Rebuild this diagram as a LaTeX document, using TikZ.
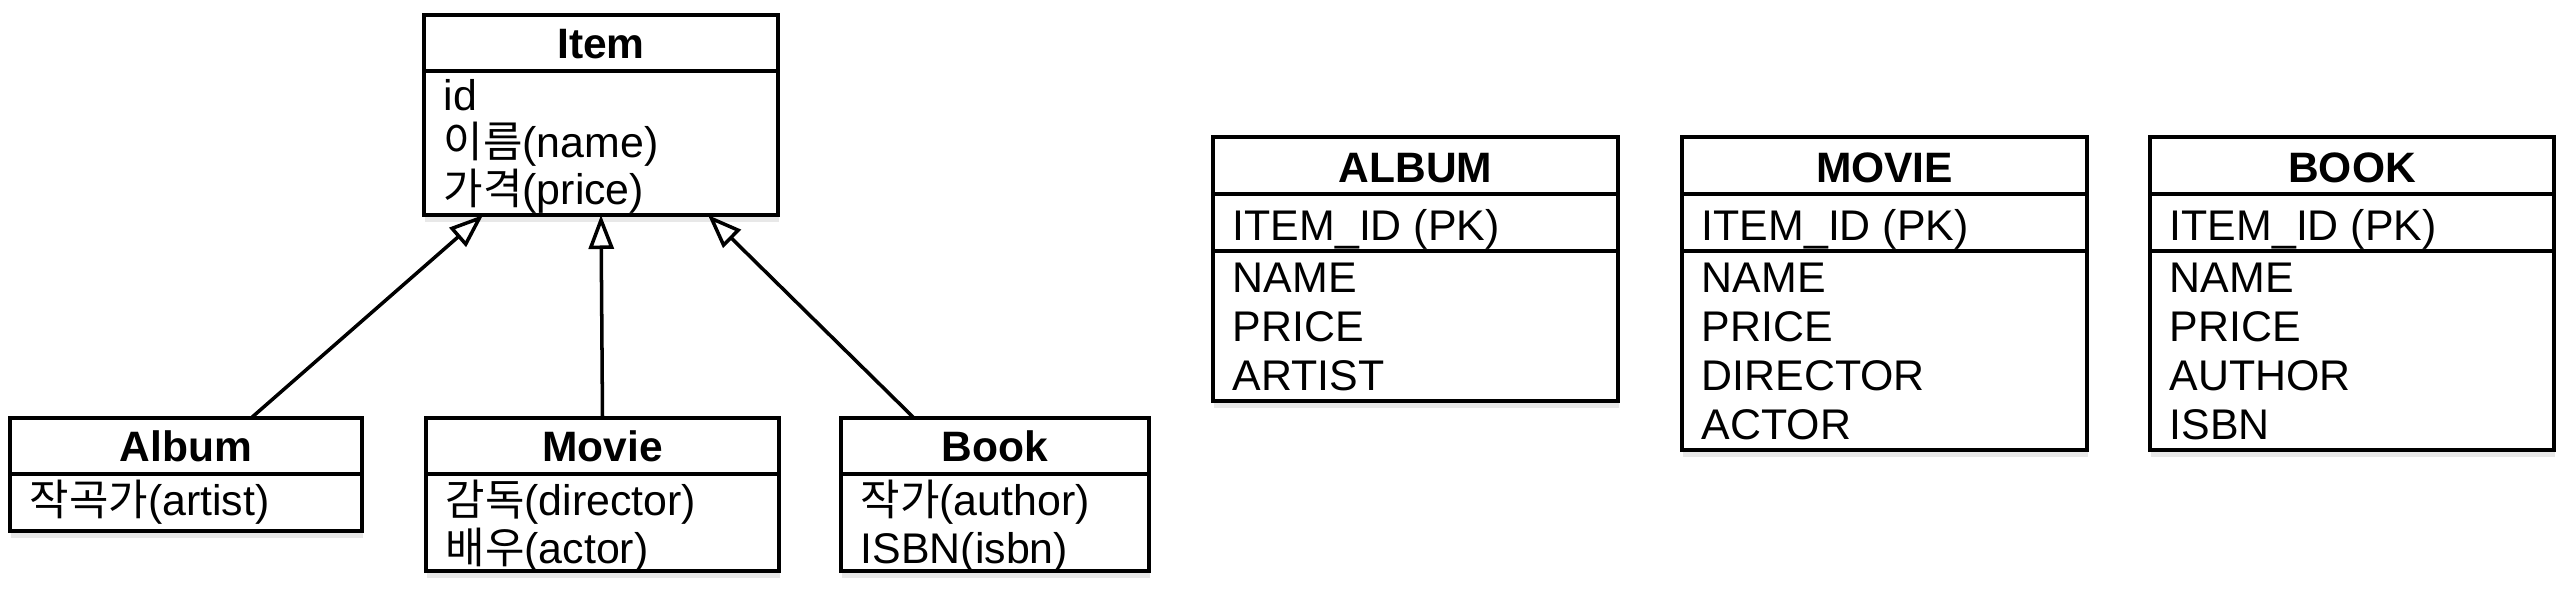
\documentclass[tikz,border=0pt]{standalone}
\usepackage{fontspec}
\setmainfont{Liberation Sans}
\newfontfamily\kr{Noto Sans CJK KR}
\usetikzlibrary{calc,arrows.meta,shadows}

\begin{document}
\begin{tikzpicture}[
    box/.style={draw, line width=1.1pt, fill=white, anchor=north west, inner sep=0pt, outer sep=0pt,
        drop shadow={opacity=0.18, shadow xshift=0.01cm, shadow yshift=-0.07cm}},
    title/.style={anchor=base, inner sep=0pt, font=\bfseries\fontsize{12.1}{14}\selectfont},
    field/.style={anchor=base west, inner sep=0pt, font=\fontsize{12.2}{14}\selectfont},
    extends/.style={line width=1pt, -{Triangle[open, length=0.34cm, width=0.25cm]}}
]
    \useasboundingbox (0,0) rectangle (25.70,-6.00);

    % Object model: classes
    \node[box, minimum width=3.54cm, minimum height=2.00cm] (item) at (4.24,-0.15) {};
    \node[box, minimum width=3.52cm, minimum height=1.13cm] (album) at (0.10,-4.18) {};
    \node[box, minimum width=3.53cm, minimum height=1.53cm] (movie) at (4.26,-4.18) {};
    \node[box, minimum width=3.08cm, minimum height=1.53cm] (book) at (8.41,-4.18) {};

    % Class names and dividers
    \foreach \n/\t in {item/Item, album/Album, movie/Movie, book/Book} {
        \node[title] (\n-title) at ($(\n.north)+(0,-0.43)$) {\t};
        \draw[line width=1pt] ($(\n.north west)+(0,-0.56)$) -- ($(\n.north east)+(0,-0.56)$);
    }

    % Fields
    \foreach \f [count=\i] in {id, {{\kr 이름}(name)}, {{\kr 가격}(price)}}
        \node[field] (item-f\i) at ($(item.north west)+(0.19,{-0.95-0.47*(\i-1)})$) {\f};
    \node[field] (album-f1) at ($(album.north west)+(0.19,-0.97)$) {{\kr 작곡가}(artist)};
    \foreach \f [count=\i] in {{{\kr 감독}(director)}, {{\kr 배우}(actor)}}
        \node[field] (movie-f\i) at ($(movie.north west)+(0.19,{-0.97-0.48*(\i-1)})$) {\f};
    \foreach \f [count=\i] in {{{\kr 작가}(author)}, ISBN(isbn)}
        \node[field] (book-f\i) at ($(book.north west)+(0.19,{-0.97-0.48*(\i-1)})$) {\f};

    % Inheritance
    \draw[extends] ($(album.north west)!0.685!(album.north east)$) -- ($(item.south west)!0.167!(item.south east)$);
    \draw[extends] (movie.north) -- (item.south);
    \draw[extends] ($(book.north west)!0.237!(book.north east)$) -- ($(item.south west)!0.802!(item.south east)$);

    % Tables
    \node[box, minimum width=4.05cm, minimum height=2.64cm] (albumtbl) at (12.13,-1.37) {};
    \node[box, minimum width=4.05cm, minimum height=3.13cm] (movietbl) at (16.82,-1.37) {};
    \node[box, minimum width=4.04cm, minimum height=3.13cm] (booktbl) at (21.50,-1.37) {};
    \foreach \n/\t in {albumtbl/ALBUM, movietbl/MOVIE, booktbl/BOOK} {
        \node[title] (\n-title) at ($(\n.north)+(0,-0.45)$) {\t};
        \draw[line width=1pt] ($(\n.north west)+(0,-0.57)$) -- ($(\n.north east)+(0,-0.57)$);
        \draw[line width=1pt] ($(\n.north west)+(0,-1.14)$) -- ($(\n.north east)+(0,-1.14)$);
        \node[field] (\n-pk) at ($(\n.north west)+(0.19,-1.03)$) {ITEM\_ID (PK)};
    }
    \foreach \f [count=\i] in {NAME, PRICE, ARTIST}
        \node[field] (albumtbl-c\i) at ($(albumtbl.north west)+(0.19,{-1.55-0.49*(\i-1)})$) {\f};
    \foreach \f [count=\i] in {NAME, PRICE, DIRECTOR, ACTOR}
        \node[field] (movietbl-c\i) at ($(movietbl.north west)+(0.19,{-1.55-0.49*(\i-1)})$) {\f};
    \foreach \f [count=\i] in {NAME, PRICE, AUTHOR, ISBN}
        \node[field] (booktbl-c\i) at ($(booktbl.north west)+(0.19,{-1.55-0.49*(\i-1)})$) {\f};
\end{tikzpicture}
\end{document}
